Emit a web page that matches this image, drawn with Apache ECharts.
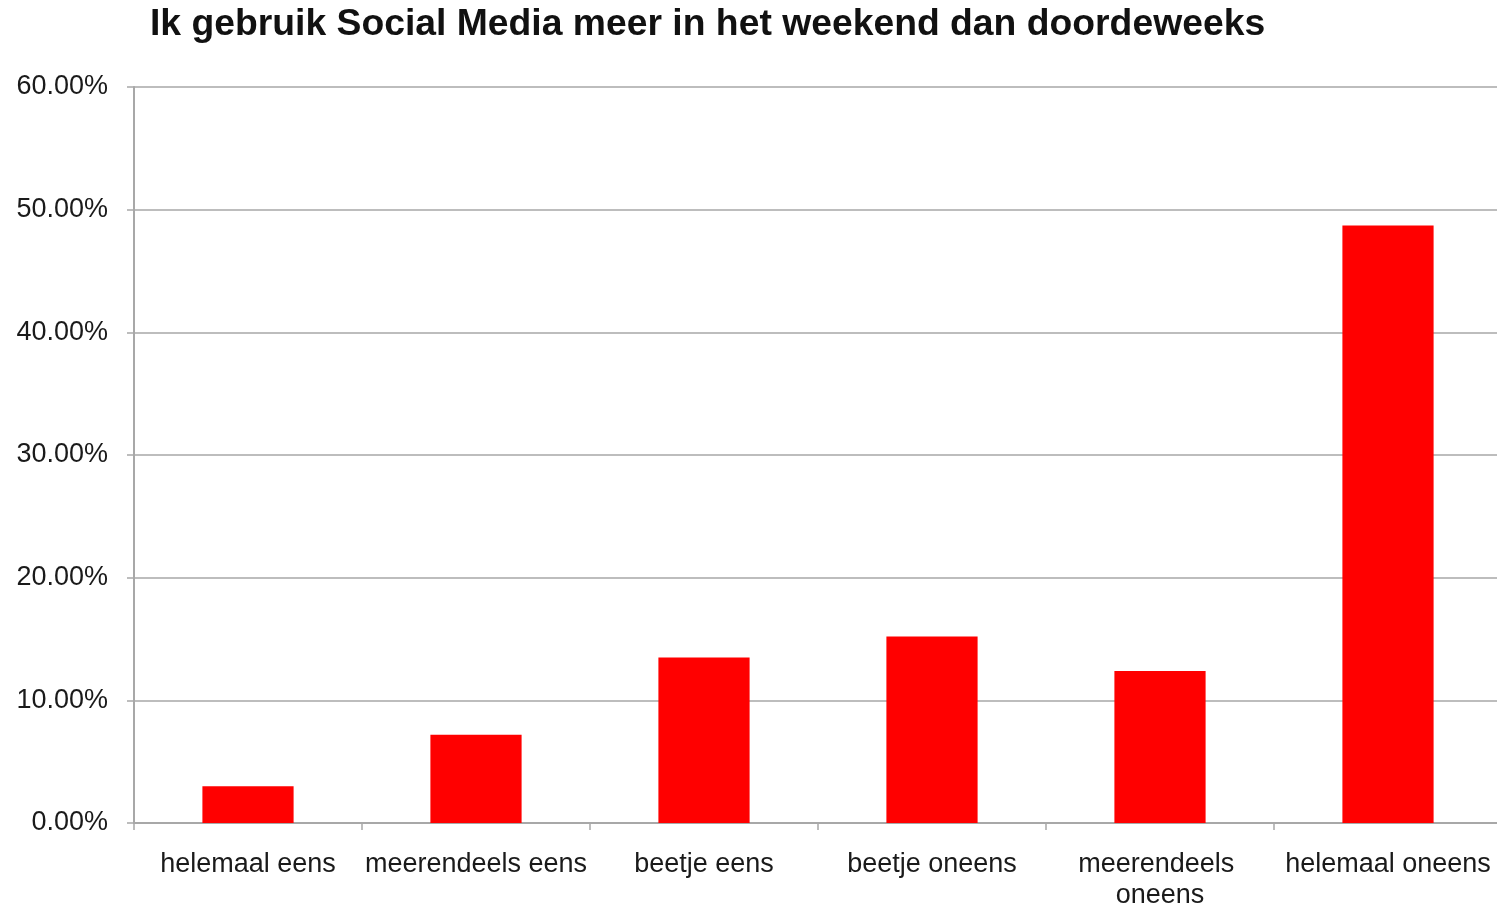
<!DOCTYPE html>
<html>
<head>
<meta charset="utf-8">
<title>Ik gebruik Social Media meer in het weekend dan doordeweeks</title>
<script src="https://cdn.jsdelivr.net/npm/echarts@6/dist/echarts.min.js"></script>
<style>
  html, body { margin: 0; padding: 0; background: #ffffff; }
  #chart { width: 1497px; height: 906px; }
</style>
</head>
<body>
<div id="chart"></div>
<script>
// Answer categories (x axis)
const categories = [
  'helemaal eens',
  'meerendeels eens',
  'beetje eens',
  'beetje oneens',
  'meerendeels oneens',
  'helemaal oneens'
];

// Share of respondents per answer, in percent
const shares = [3.0, 7.2, 13.5, 15.2, 12.4, 48.7];

// Y axis range and step, in percent
const yMin = 0;
const yMax = 60;
const yStep = 10;

const titleText = 'Ik gebruik Social Media meer in het weekend dan doordeweeks';

const chart = echarts.init(document.getElementById('chart'), null, { renderer: 'canvas' });

const textColor = '#1a1a1a';
const gridColor = '#bdbdbd';
const fontFamily = 'Liberation Sans, Arial, sans-serif';

chart.setOption({
  backgroundColor: '#ffffff',
  animation: false,
  title: {
    text: titleText,
    left: 145,
    top: 1,
    textStyle: {
      fontFamily: fontFamily,
      fontSize: 37.3,
      fontWeight: 'bold',
      color: '#111111'
    }
  },
  grid: {
    left: 134,
    right: -5,
    top: 87,
    bottom: 83,
    containLabel: false,
    outerBoundsMode: 'none'
  },
  xAxis: {
    type: 'category',
    data: categories,
    axisLine: { show: true, lineStyle: { color: '#a8a8a8', width: 2 } },
    axisTick: { show: true, length: 7, lineStyle: { color: '#a8a8a8', width: 1.5 } },
    axisLabel: {
      interval: 0,
      margin: 26,
      fontFamily: fontFamily,
      fontSize: 27,
      lineHeight: 31,
      color: textColor,
      width: 226,
      overflow: 'break'
    },
    splitLine: { show: false }
  },
  yAxis: {
    type: 'value',
    min: yMin,
    max: yMax,
    interval: yStep,
    axisLine: { show: true, lineStyle: { color: '#a8a8a8', width: 2 } },
    axisTick: { show: true, length: 7, lineStyle: { color: '#a8a8a8', width: 1.5 } },
    axisLabel: {
      margin: 26,
      padding: [4, 0, 0, 0],
      fontFamily: fontFamily,
      fontSize: 27,
      color: textColor,
      formatter: v => v.toFixed(2) + '%'
    },
    splitLine: { show: true, lineStyle: { color: gridColor, width: 2 } }
  },
  series: [{
    type: 'bar',
    data: shares,
    barWidth: '40%',
    itemStyle: { color: '#ff0000' }
  }]
});
</script>
</body>
</html>
